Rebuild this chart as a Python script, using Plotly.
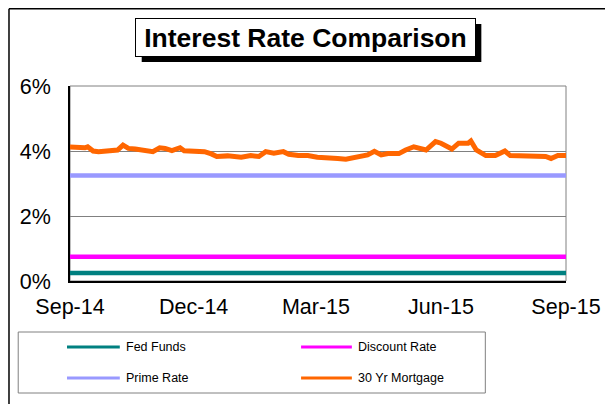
import plotly.graph_objects as go

# ---- data ----
series_names = ["Fed Funds", "Discount Rate", "Prime Rate", "30 Yr Mortgage"]
series_colors = ["#008080", "#FF00FF", "#9999FF", "#FF6600"]

flat_dates = ["2014-09-01", "2015-09-01"]
fed_funds = [0.25, 0.25]
discount_rate = [0.75, 0.75]
prime_rate = [3.25, 3.25]

mortgage_dates = [
    "2014-09-01", "2014-09-07", "2014-09-12", "2014-09-14", "2014-09-18", "2014-09-22",
    "2014-09-29", "2014-10-06", "2014-10-10", "2014-10-14", "2014-10-19", "2014-10-26",
    "2014-11-01", "2014-11-06", "2014-11-10", "2014-11-15", "2014-11-21", "2014-11-24",
    "2014-12-02", "2014-12-09", "2014-12-14", "2014-12-18", "2014-12-26", "2015-01-05",
    "2015-01-12", "2015-01-18", "2015-01-23", "2015-01-29", "2015-02-05", "2015-02-09",
    "2015-02-16", "2015-02-23", "2015-03-02", "2015-03-10", "2015-03-17", "2015-03-23",
    "2015-03-28", "2015-04-02", "2015-04-08", "2015-04-13", "2015-04-18", "2015-04-23",
    "2015-05-01", "2015-05-06", "2015-05-12", "2015-05-21", "2015-05-28", "2015-06-01",
    "2015-06-09", "2015-06-14", "2015-06-21", "2015-06-23", "2015-06-27", "2015-07-04",
    "2015-07-11", "2015-07-13", "2015-07-18", "2015-07-22", "2015-07-28", "2015-08-06",
    "2015-08-17", "2015-08-21", "2015-08-26", "2015-09-01",
]
mortgage_30yr = [
    4.12, 4.10, 4.10, 4.13, 4.00, 3.98,
    4.01, 4.03, 4.18, 4.08, 4.06, 4.03,
    3.98, 4.10, 4.08, 4.01, 4.10, 4.01,
    4.00, 3.98, 3.91, 3.83, 3.85, 3.81,
    3.86, 3.83, 3.98, 3.93, 3.98, 3.90,
    3.86, 3.86, 3.81, 3.77, 3.77, 3.75,
    3.79, 3.86, 3.88, 3.99, 3.88, 3.92,
    3.92, 4.03, 4.13, 4.03, 4.29, 4.24,
    4.06, 4.24, 4.24, 4.31, 4.03, 3.86,
    3.86, 3.90, 4.00, 3.86, 3.86, 3.83,
    3.83, 3.77, 3.86, 3.86,
]

x_tick_vals = ["2014-09-01", "2014-12-01", "2015-03-01", "2015-06-01", "2015-09-01"]
x_tick_text = ["Sep-14", "Dec-14", "Mar-15", "Jun-15", "Sep-15"]
y_tick_vals = [0, 2, 4, 6]
y_tick_text = ["0%", "2%", "4%", "6%"]

title_text = "Interest Rate Comparison"

# ---- layout geometry (pixels) ----
OFF = 8  # page body margin
W, H = 613 - OFF, 404 - OFF
ML, MR, MT, MB = 62, 45, 78, 123
PW, PH = W - ML - MR, H - MT - MB


def px(x):
    """page x pixel -> paper coordinate"""
    return (x - OFF - ML) / PW


def py(y):
    """page y pixel -> paper coordinate"""
    return (H - MB - (y - OFF)) / PH


FONT = "Liberation Sans, Arial, sans-serif"

fig = go.Figure()
xs = [flat_dates, flat_dates, flat_dates, mortgage_dates]
ys = [fed_funds, discount_rate, prime_rate, mortgage_30yr]
widths = [4.5, 4.5, 4.5, 5]
for name, color, x, y, w in zip(series_names, series_colors, xs, ys, widths):
    fig.add_trace(go.Scatter(x=x, y=y, mode="lines", name=name,
                             line=dict(color=color, width=w), showlegend=False))

shapes = []
# outer chart border (left and top)
shapes.append(dict(type="line", xref="paper", yref="paper",
                   x0=px(8.75), x1=px(613), y0=py(8.75), y1=py(8.75),
                   line=dict(color="black", width=1.5)))
shapes.append(dict(type="line", xref="paper", yref="paper",
                   x0=px(8.75), x1=px(8.75), y0=py(8.75), y1=py(404),
                   line=dict(color="black", width=1.5)))
# plot area border (gray)
shapes.append(dict(type="rect", xref="paper", yref="paper", x0=0, x1=1, y0=0, y1=1,
                   line=dict(color="#808080", width=1), layer="below"))
# title shadow
shapes.append(dict(type="rect", xref="paper", yref="paper",
                   x0=px(142), x1=px(483), y0=py(24), y1=py(62),
                   fillcolor="black", line=dict(width=0)))
# legend box
shapes.append(dict(type="rect", xref="paper", yref="paper",
                   x0=px(18), x1=px(487), y0=py(332), y1=py(393),
                   line=dict(color="#808080", width=1), fillcolor="white"))

annotations = [dict(
    text="<b>" + title_text + "</b>", xref="paper", yref="paper",
    x=px(306.5), y=py(37.5), xanchor="center", yanchor="middle",
    showarrow=False, font=dict(family=FONT, size=26.5, color="black"),
    bgcolor="white", bordercolor="black", borderwidth=1, borderpad=2,
    width=335, height=33,
)]

# manual legend entries
legend_pos = [(67, 120, 347), (302, 353, 347), (67, 120, 378), (302, 353, 378)]
for name, color, (lx0, lx1, ly) in zip(series_names, series_colors, legend_pos):
    shapes.append(dict(type="line", xref="paper", yref="paper",
                       x0=px(lx0), x1=px(lx1), y0=py(ly), y1=py(ly),
                       line=dict(color=color, width=3)))
    annotations.append(dict(text=name, xref="paper", yref="paper",
                            x=px(lx1 + 4), y=py(ly), xanchor="left", yanchor="middle",
                            showarrow=False, font=dict(family=FONT, size=12.5, color="black")))

fig.update_layout(
    width=W, height=H,
    margin=dict(l=ML, r=MR, t=MT, b=MB, pad=0),
    paper_bgcolor="white", plot_bgcolor="white",
    shapes=shapes, annotations=annotations,
    xaxis=dict(type="date", range=["2014-09-01", "2015-09-01"],
               tickvals=x_tick_vals, ticktext=x_tick_text,
               tickfont=dict(family=FONT, size=21.5, color="black"),
               showgrid=False, zeroline=False,
               showline=True, linecolor="black", linewidth=1.5,
               ticks="outside", ticklen=5, tickcolor="rgba(0,0,0,0)"),
    yaxis=dict(range=[0, 6], tickvals=y_tick_vals, ticktext=y_tick_text,
               tickfont=dict(family=FONT, size=21.5, color="black"),
               showgrid=True, gridcolor="#808080", gridwidth=1, zeroline=False,
               showline=True, linecolor="black", linewidth=1.5,
               ticks="outside", ticklen=13, tickcolor="rgba(0,0,0,0)"),
    showlegend=False,
)

fig.write_html("out.html")
